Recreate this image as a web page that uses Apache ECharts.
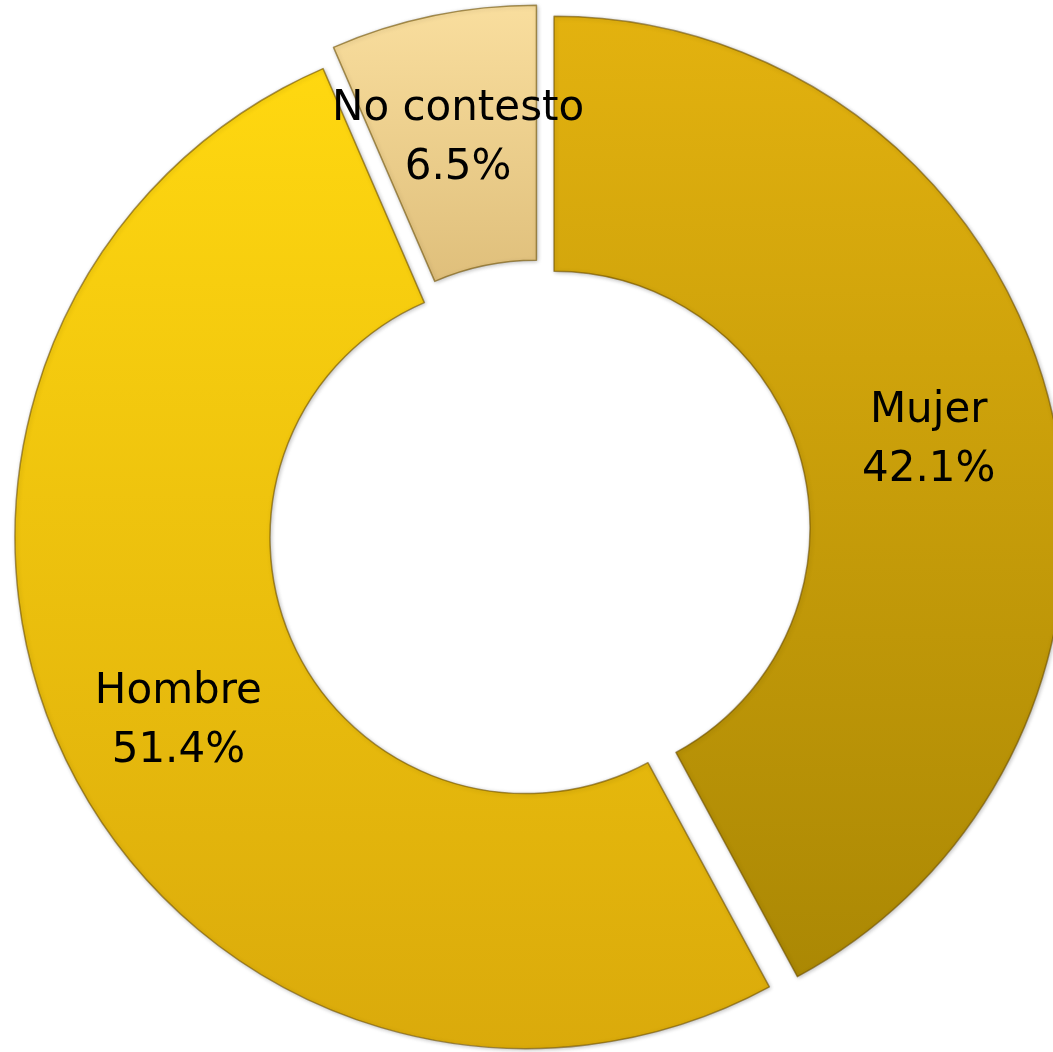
<!DOCTYPE html>
<html>
<head>
<meta charset="utf-8">
<style>
  html, body { margin: 0; padding: 0; background: #ffffff; }
  #chart { width: 1053px; height: 1052px; }
</style>
<script src="https://cdn.jsdelivr.net/npm/echarts@6/dist/echarts.min.js"></script>
</head>
<body>
<div id="chart"></div>
<script>
  var categories = ['Mujer', 'Hombre', 'No contesto'];
  var percents = [42.1, 51.4, 6.5];
  var gradients = [
    ['#E3B20F', '#AB8804'],
    ['#FFD810', '#DAAA0B'],
    ['#F9DE9E', '#DFBF7B']
  ];

  var chart = echarts.init(document.getElementById('chart'));

  // pie labels ignore offset/padding vertically, so add an empty spacer line on top
  var spacer = { 'Mujer': 16, 'Hombre': 30, 'No contesto': 2 };

  var data = categories.map(function (name, i) {
    return {
      name: name,
      value: percents[i],
      selected: true,
      label: {
        rich: { gap: { lineHeight: spacer[name], fontSize: 1 } }
      },
      itemStyle: {
        color: new echarts.graphic.LinearGradient(0, 0, 0, 1, [
          { offset: 0, color: gradients[i][0] },
          { offset: 1, color: gradients[i][1] }
        ])
      }
    };
  });

  chart.setOption({
    animation: false,
    series: [
      {
        type: 'pie',
        center: [539.5, 531],
        radius: [256, 511],
        startAngle: 90,
        clockwise: true,
        selectedMode: 'multiple',
        selectedOffset: 15,
        avoidLabelOverlap: false,
        itemStyle: {
          borderColor: 'rgba(110,80,0,0.6)',
          borderWidth: 1.5,
          shadowColor: 'rgba(0,0,0,0.25)',
          shadowBlur: 4,
          shadowOffsetX: 1,
          shadowOffsetY: 1
        },
        label: {
          show: true,
          position: 'inside',
          color: '#000000',
          fontFamily: 'DejaVu Sans',
          fontSize: 42,
          lineHeight: 59,
          formatter: function (p) {
            return '{gap| }\n{t|' + p.name + '}\n{t|' + p.value.toFixed(1) + '%}';
          },
          rich: {
            t: { fontFamily: 'DejaVu Sans', fontSize: 42, lineHeight: 59, color: '#000000' }
          }
        },
        labelLine: { show: false },
        emphasis: { disabled: true },
        data: data
      }
    ]
  });
</script>
</body>
</html>
